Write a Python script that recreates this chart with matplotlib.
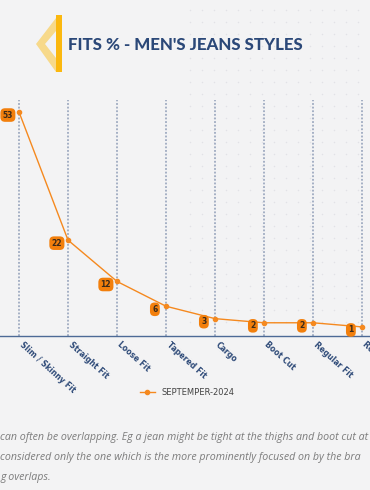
import matplotlib
matplotlib.use("Agg")
import matplotlib.pyplot as plt
import matplotlib.transforms as mtransforms
from matplotlib.patches import Polygon, Rectangle
import numpy as np

categories = ["Slim / Skinny Fit", "Straight Fit", "Loose Fit", "Tapered Fit",
              "Cargo", "Boot Cut", "Regular Fit", "Relaxed Fit"]
values = [53, 22, 12, 6, 3, 2, 2, 1]
series_name = "SEPTEMPER-2024"
title = "FITS % - MEN'S JEANS STYLES"
note_lines = [
    "can often be overlapping. Eg a jean might be tight at the thighs and boot cut at",
    "considered only the one which is the more prominently focused on by the bra",
    "g overlaps.",
]

W, H = 370, 490
fig = plt.figure(figsize=(W / 100, H / 100), dpi=100)
fig.patch.set_facecolor("#f3f3f4")

# subtle dot pattern in the background
bg = fig.add_axes([0, 0, 1, 1], zorder=-5)
bg.set_xlim(0, W); bg.set_ylim(H, 0); bg.axis("off")
xs, ys = np.meshgrid(np.arange(190, W, 12), np.arange(10, 330, 12))
bg.scatter(xs.ravel(), ys.ravel(), s=1.2, color="#e2e2e6", lw=0)
# icon
bg.add_patch(Polygon([[56, 18], [36, 44], [56, 72], [56, 58], [45, 44], [56, 31]],
                     closed=True, facecolor="#f7d98a", edgecolor="none"))
bg.add_patch(Rectangle((56, 15), 6, 57, facecolor="#fbb80f", edgecolor="none"))
bg.text(68, 45, title, fontsize=12.2, fontweight="black", color="#2b4878",
        ha="left", va="center", family="Lato")
for i, ln in enumerate(note_lines):
    bg.text(0, 437 + 20 * i, ln, fontsize=7.65, style="italic", color="#7c7c7c",
            ha="left", va="center", family="Open Sans")

# main axes
x0_px, step = 19, 49
xl = (0 - x0_px) / step
xr = (W - x0_px) / step
ax_bottom, ax_top = 336, 100
ax = fig.add_axes([0, 1 - ax_bottom / H, 1, (ax_bottom - ax_top) / H])
ax.set_facecolor("none")
x = np.arange(len(categories))
ax.set_xlim(xl, xr)
ax.set_ylim(-1.2, 55.9)

for xi in x:
    ax.axvline(xi, color="#9eaac0", lw=1.3, ls=(0, (1, 1)), zorder=1)

ax.plot(x, values, color="#f5891f", lw=1.0, marker="o", ms=3,
        label=series_name, zorder=3)
for xi, v in zip(x, values):
    ax.annotate(str(v), (xi, v), xytext=(-8, -2.2), textcoords="offset points",
                ha="center", va="center", fontsize=5.5, fontweight="bold",
                color="#3a2a1a",
                bbox=dict(boxstyle="round,pad=0.3,rounding_size=0.6",
                          fc="#f27f0c", ec="none"), zorder=4)

for s in ["top", "right", "left"]:
    ax.spines[s].set_visible(False)
ax.spines["bottom"].set_color("#4d6a96")
ax.spines["bottom"].set_linewidth(1.0)
ax.set_yticks([])
ax.set_xticks(x)
ax.set_xticklabels(categories, rotation=-42, ha="left", va="top",
                   rotation_mode="anchor", fontsize=5.6, fontweight="bold",
                   color="#2e4a78", family="DejaVu Sans")
ax.tick_params(axis="x", length=0, pad=3)
shift = mtransforms.ScaledTranslation(5 / 100, 0, fig.dpi_scale_trans)
for lab in ax.get_xticklabels():
    lab.set_transform(lab.get_transform() + shift)

leg = fig.legend(loc="center", bbox_to_anchor=(0.505, 1 - 392 / H), frameon=False,
                 handlelength=1.8, labelcolor="#444444",
                 prop={"family": "DejaVu Sans Condensed", "size": 6.0})

fig.savefig("out.png", dpi=100, facecolor=fig.get_facecolor())
